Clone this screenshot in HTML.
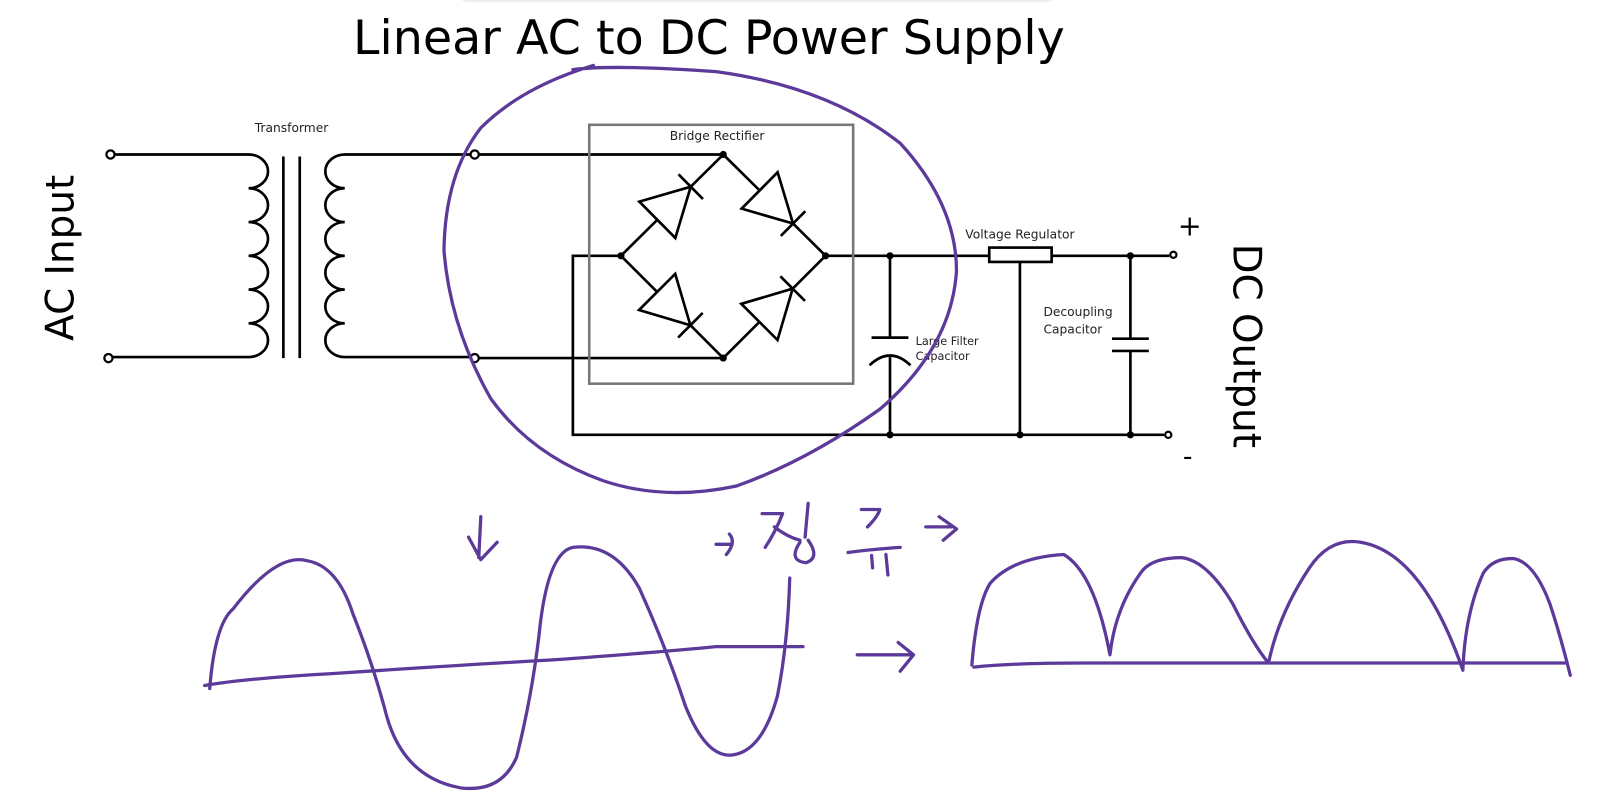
<!DOCTYPE html>
<html><head><meta charset="utf-8"><style>
html,body{margin:0;padding:0;background:#fff;width:1602px;height:796px;overflow:hidden}
svg{display:block}
</style></head><body>
<svg width="1602" height="796" viewBox="0 0 1566 778" preserveAspectRatio="none" xmlns="http://www.w3.org/2000/svg">
<rect x="450" y="-10" width="580" height="12" rx="6" fill="#eee"/>
<text x="693" y="53" text-anchor="middle" font-family="DejaVu Sans, Liberation Sans, sans-serif" font-size="46.5">Linear AC to DC Power Supply</text>
<g fill="none" stroke="#000" stroke-width="2.6">
<path d="M112,151 H243 a19,16.5 0 0 1 0,33 a19,16.5 0 0 1 0,33 a19,16.5 0 0 1 0,33 a19,16.5 0 0 1 0,33 a19,16.5 0 0 1 0,33 a19,16.5 0 0 1 0,33 H110"/>
<path d="M461,151 H337 a19,16.5 0 0 0 0,33 a19,16.5 0 0 0 0,33 a19,16.5 0 0 0 0,33 a19,16.5 0 0 0 0,33 a19,16.5 0 0 0 0,33 a19,16.5 0 0 0 0,33 H461"/>
<line x1="277" y1="153" x2="277" y2="350"/><line x1="293" y1="153" x2="293" y2="350"/>
<path d="M468,151 H707 M468,350 H707 M607,250 H560 V425 H1138 M807,250 H1143"/>
<line x1="870" y1="250" x2="870" y2="330"/><line x1="870" y1="349" x2="870" y2="425"/>
<line x1="852" y1="330" x2="888" y2="330"/>
<path d="M850,357 Q870,338 890,357"/>
<line x1="997" y1="256" x2="997" y2="425"/>
<line x1="1105" y1="250" x2="1105" y2="331"/><line x1="1105" y1="343" x2="1105" y2="425"/>
<line x1="1087" y1="331" x2="1123" y2="331"/><line x1="1087" y1="343" x2="1123" y2="343"/>
<rect x="967" y="242" width="61" height="14" fill="#fff"/>
<g transform="translate(607,250) rotate(-44.7)"><path d="M0,0 H50 M96,0 H141 M50,-25 L96,0 L50,25 Z M96,-17 V17"/></g>
<g transform="translate(707,151) rotate(44.7)"><path d="M0,0 H50 M96,0 H141 M50,-25 L96,0 L50,25 Z M96,-17 V17"/></g>
<g transform="translate(607,250) rotate(45)"><path d="M0,0 H50 M96,0 H141 M50,-25 L96,0 L50,25 Z M96,-17 V17"/></g>
<g transform="translate(707,350) rotate(-45)"><path d="M0,0 H50 M96,0 H141 M50,-25 L96,0 L50,25 Z M96,-17 V17"/></g>
</g>
<rect x="576" y="122" width="258" height="253" fill="none" stroke="#777" stroke-width="2.5"/>
<g fill="#000"><circle cx="707" cy="151" r="3.5"/><circle cx="707" cy="350" r="3.5"/><circle cx="607" cy="250" r="3.5"/><circle cx="807" cy="250" r="3.5"/>
<circle cx="870" cy="250" r="3.5"/><circle cx="1105" cy="250" r="3.5"/><circle cx="870" cy="425" r="3.5"/><circle cx="997" cy="425" r="3.5"/><circle cx="1105" cy="425" r="3.5"/></g>
<g fill="#fff" stroke="#000" stroke-width="2.2"><circle cx="108" cy="151" r="4"/><circle cx="106" cy="350" r="4"/><circle cx="464" cy="151" r="4"/><circle cx="464" cy="350" r="4"/><circle cx="1147" cy="249" r="3"/><circle cx="1142" cy="425" r="3"/></g>
<g font-family="DejaVu Sans, Liberation Sans, sans-serif" fill="#222">
<text x="285" y="129" font-size="12" text-anchor="middle">Transformer</text>
<text x="701" y="137" font-size="12" text-anchor="middle">Bridge Rectifier</text>
<text x="997" y="233" font-size="12" text-anchor="middle">Voltage Regulator</text>
<text x="895" y="337" font-size="11">Large Filter</text><text x="895" y="352" font-size="11">Capacitor</text>
<text x="1020" y="309" font-size="12">Decoupling</text><text x="1020" y="326" font-size="12">Capacitor</text>
<text x="1163" y="230" font-size="28" text-anchor="middle" fill="#000">+</text>
<text x="1161" y="455" font-size="26" text-anchor="middle" fill="#000">-</text>
<text transform="translate(72,252) rotate(-90)" font-size="38" text-anchor="middle" fill="#000">AC Input</text>
<text transform="translate(1206,338) rotate(90)" font-size="38" text-anchor="middle" fill="#000">DC Output</text>
</g>
<g fill="none" stroke="#5b3a9a" stroke-width="3.2" stroke-linecap="round" stroke-linejoin="round">
<path d="M560,68 Q600,63 700,70 Q810,85 880,140 Q935,200 935,265 Q930,340 860,400 Q790,450 720,475 Q650,490 590,470 Q520,445 480,390 Q440,320 434,245 Q435,170 470,125 Q510,85 580,64"/>
<path d="M470,505 L468,545 M458,525 L470,547 L486,530"/>
<path d="M700,532 H715 M713,522 Q720,530 710,542"/>
<path d="M745,502 H765 Q758,520 748,535 M757,515 Q770,525 782,528"/>
<path d="M790,492 L787,525 M782,530 Q770,548 788,550 Q802,545 790,528"/>
<path d="M842,498 H860 Q858,505 848,515 M829,540 Q850,537 880,535 M852,543 L853,555 M866,542 L868,562"/>
<path d="M905,515 H930 M918,505 L935,517 L922,528"/>
<path d="M200,670 Q240,663 330,658 Q450,650 540,645 Q650,637 700,632 H785"/>
<path d="M205,673 Q210,610 228,595 Q270,540 300,548 Q330,553 345,600 Q365,650 378,700 Q395,760 450,770 Q490,775 505,740 Q520,680 527,620 Q535,540 560,535 Q600,530 625,575 Q650,630 670,690 Q690,740 715,738 Q745,735 760,680 Q770,630 772,565"/>
<path d="M838,640 H890 M878,628 L893,640 L880,656"/>
<path d="M952,652 Q990,648 1060,648 H1530"/>
<path d="M950,650 Q955,590 968,570 Q990,545 1040,542 Q1070,560 1085,640 Q1090,595 1115,560 Q1125,545 1155,545 Q1180,548 1205,590 Q1225,630 1240,648 Q1250,600 1280,555 Q1300,525 1330,530 Q1390,540 1430,655 Q1432,600 1450,560 Q1460,545 1480,546 Q1500,550 1515,590 Q1525,620 1535,660"/>
</g>
</svg>
</body></html>
